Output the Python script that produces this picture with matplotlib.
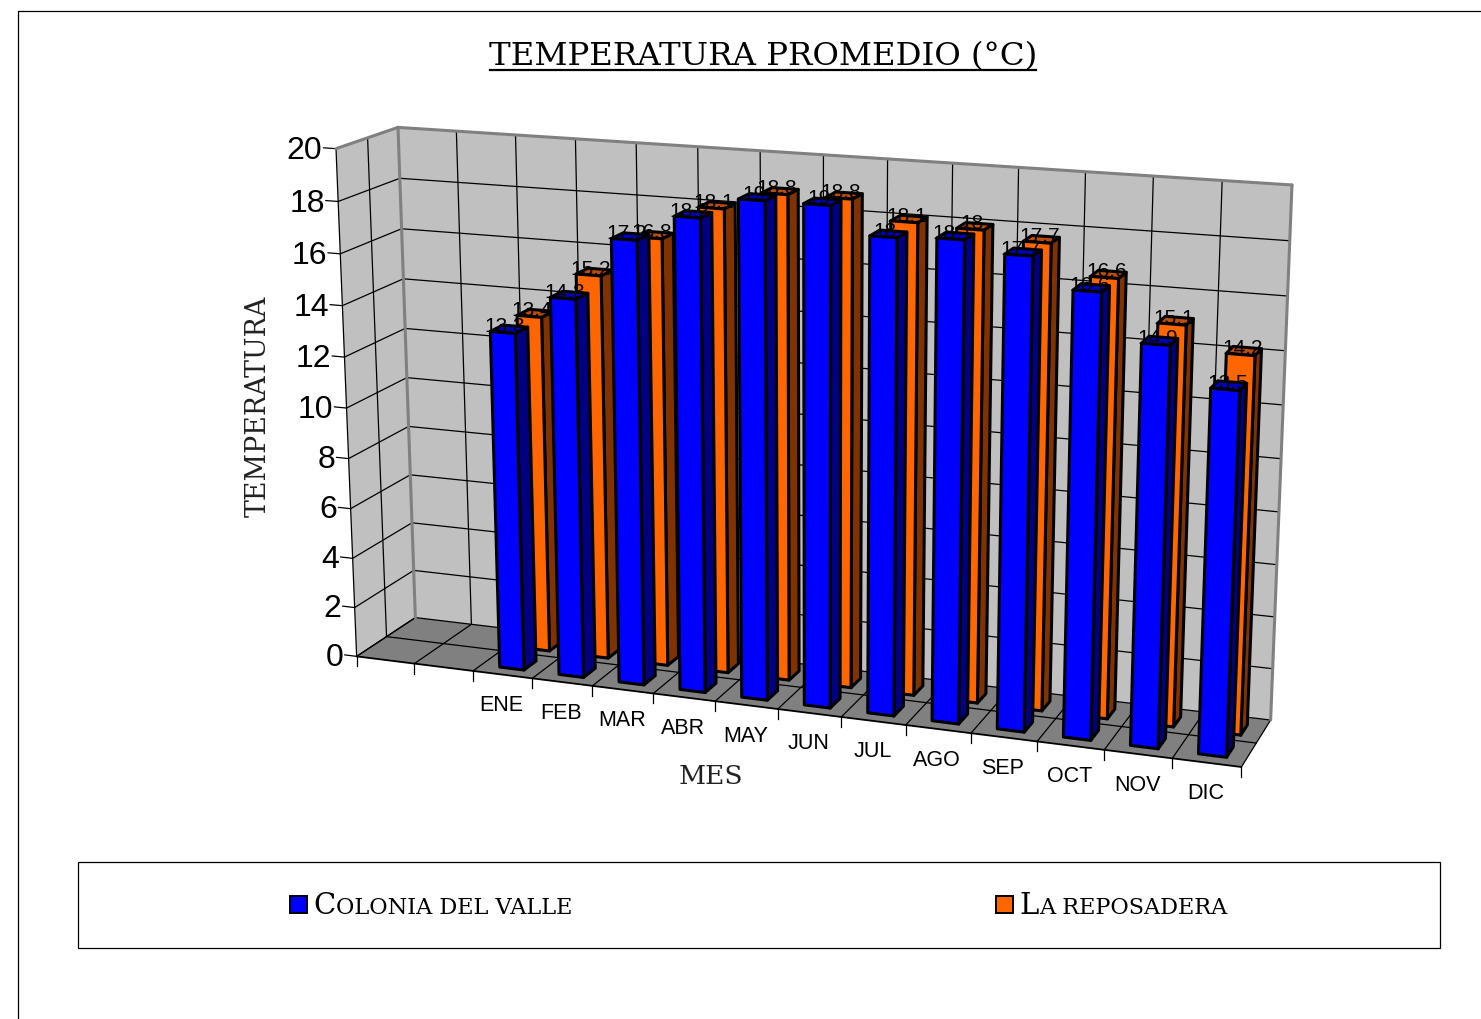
import numpy as np
import matplotlib
matplotlib.use("Agg")
import matplotlib.pyplot as plt
from matplotlib.patches import Polygon, Rectangle

# dati del grafico
meses = ["ENE", "FEB", "MAR", "ABR", "MAY", "JUN", "JUL", "AGO", "SEP", "OCT", "NOV", "DIC"]
colonia = [13.3, 14.8, 17.2, 18.2, 19.0, 19.0, 18.0, 18.1, 17.7, 16.6, 14.9, 13.5]
reposadera = [13.4, 15.2, 16.8, 18.1, 18.8, 18.8, 18.1, 18.0, 17.7, 16.6, 15.1, 14.2]
yticks = list(range(0, 21, 2))
n_cat = 14      # due categorie vuote prima di ENE
offset_cat = 2
vmax = 20

# angoli della scatola 3D: (u, d, v) -> pixel, per ricavare la proiezione
corners = [
    ((0, 0, 0), (357, 657)),
    ((0, 0, 1), (336, 148)),
    ((0, 1, 1), (398, 128)),
    ((0, 1, 0), (415, 617)),
    ((1, 1, 1), (1292, 185)),
    ((1, 1, 0), (1271, 720)),
    ((1, 0, 0), (1241, 767)),
]

rows = []
rhs = []
for (u, d, v), (x, y) in corners:
    rows.append([u, d, v, 1, 0, 0, 0, 0, -x * u, -x * d, -x * v])
    rows.append([0, 0, 0, 0, u, d, v, 1, -y * u, -y * d, -y * v])
    rhs += [x, y]
sol = np.linalg.lstsq(np.array(rows, float), np.array(rhs, float), rcond=None)[0]
P = np.append(sol, 1.0).reshape(3, 4)


def proj(cat, d, val):
    """categoria, profondita (0-1), valore -> pixel"""
    p = P @ np.array([cat / n_cat, d, val / vmax, 1.0])
    return p[0] / p[2], p[1] / p[2]


def poly(ax, pts, fc, ec="black", lw=1.0, z=1):
    ax.add_patch(Polygon([proj(*p) for p in pts], closed=True, fc=fc, ec=ec, lw=lw, zorder=z, joinstyle="round"))


def line(ax, a, b, color="black", lw=0.9, z=1.5):
    pa, pb = proj(*a), proj(*b)
    ax.plot([pa[0], pb[0]], [pa[1], pb[1]], color=color, lw=lw, zorder=z, solid_capstyle="round")


def bar3d(ax, cat, d0, d1, val, front, side, top, z):
    u0, u1 = cat + 0.31, cat + 0.72
    poly(ax, [(u0, d0, val), (u1, d0, val), (u1, d1, val), (u0, d1, val)], top, lw=2.2, z=z)
    poly(ax, [(u1, d0, 0), (u1, d1, 0), (u1, d1, val), (u1, d0, val)], side, lw=2.2, z=z + 0.2)
    poly(ax, [(u0, d0, 0), (u1, d0, 0), (u1, d0, val), (u0, d0, val)], front, lw=2.2, z=z + 0.2)
    x, y = proj(cat + 0.5, d0, val)
    ax.text(x + 3, y, f"{val:g}", fontsize=15, ha="center", va="baseline", family="Liberation Sans", zorder=z + 0.3)


fig = plt.figure(figsize=(14.81, 10.19), dpi=100)
ax = fig.add_axes([0, 0, 1, 1])
ax.set_xlim(0, 1481)
ax.set_ylim(1019, 0)
ax.axis("off")

# cornice esterna
ax.plot([1481, 18, 18], [11, 11, 1019], color="black", lw=0.9)

# pareti e pavimento
grigio = "#C0C0C0"
poly(ax, [(0, 1, 0), (n_cat, 1, 0), (n_cat, 1, vmax), (0, 1, vmax)], grigio, ec="none")
poly(ax, [(0, 0, 0), (0, 1, 0), (0, 1, vmax), (0, 0, vmax)], grigio, ec="none")
poly(ax, [(0, 0, 0), (n_cat, 0, 0), (n_cat, 1, 0), (0, 1, 0)], "#808080", ec="none")

# griglia
for val in yticks:
    line(ax, (0, 0, val), (0, 1, val))
    line(ax, (0, 1, val), (n_cat, 1, val))
    line(ax, (0, 0, val), (-0.21, 0, val))
    x, y = proj(-0.21, 0, val)
    ax.text(x - 1, y + 3, str(val), fontsize=23, ha="right", va="center", family="Liberation Sans")
for c in range(1, n_cat):
    line(ax, (c, 1, 0), (c, 1, vmax))
for c in range(0, n_cat + 1):
    line(ax, (c, 0, 0), (c, 1, 0))
    xx, yy = proj(c, 0, 0)
    ax.plot([xx, xx], [yy, yy + 10], color="black", lw=0.9, zorder=1.5)
line(ax, (0, 0.5, 0), (n_cat, 0.5, 0))
line(ax, (0, 0.5, 0), (0, 0.5, vmax))
line(ax, (0, 0, 0), (0, 0, vmax))
line(ax, (0, 0, 0), (n_cat, 0, 0), lw=1.3)

# bordi grigi delle pareti
bordo = "#808080"
line(ax, (0, 1, 0), (0, 1, vmax), color=bordo, lw=2.2, z=1.6)
line(ax, (0, 0, vmax), (0, 1, vmax), color=bordo, lw=2.2, z=1.6)
line(ax, (0, 1, vmax), (n_cat, 1, vmax), color=bordo, lw=2.2, z=1.6)
line(ax, (n_cat, 1, vmax), (n_cat, 1, 0), color=bordo, lw=2.2, z=1.6)

# barre: prima la serie dietro, poi quella davanti
for i, val in enumerate(reposadera):
    bar3d(ax, i + offset_cat, 0.62, 0.84, val, "#FF6600", "#803300", "#C04D00", 2 + i * 0.01)
for i, val in enumerate(colonia):
    bar3d(ax, i + offset_cat, 0.15, 0.37, val, "#0000FF", "#000080", "#0000C0", 3 + i * 0.01)

# etichette categorie
for i, m in enumerate(meses):
    x, y = proj(i + offset_cat + 0.5, 0, 0)
    ax.text(x - 1, y + 31, m, fontsize=15.5, ha="center", va="center", family="Liberation Sans")

# titoli
serif = "DejaVu Serif"
ax.text(763, 65, "TEMPERATURA PROMEDIO (°C)", fontsize=23.3, ha="center", va="baseline", family=serif)
ax.plot([490, 1036], [70, 70], color="black", lw=1.6)
ax.text(258, 406, "TEMPERATURA", fontsize=19.4, rotation=90, ha="center", va="center", family=serif, color="#222222")
ax.text(711, 776, "MES", fontsize=19, ha="center", va="center", family=serif, color="#222222")

# legenda
ax.add_patch(Rectangle((78, 862), 1362, 86, fc="white", ec="black", lw=0.9))


def small_caps(x, y, text):
    t = ax.text(x, y, text[0], fontsize=21, ha="left", va="baseline", family=serif)
    bb = t.get_window_extent(fig.canvas.get_renderer())
    ax.text(bb.x1 + 1, y, text[1:].upper(), fontsize=16.1, ha="left", va="baseline", family=serif)


ax.add_patch(Rectangle((290, 896), 17, 17, fc="#0000FF", ec="black", lw=1.4))
small_caps(313, 914, "Colonia del valle")
ax.add_patch(Rectangle((996, 896), 17, 17, fc="#FF6600", ec="black", lw=1.4))
small_caps(1019, 914, "La reposadera")

fig.savefig("out.png", dpi=100)
